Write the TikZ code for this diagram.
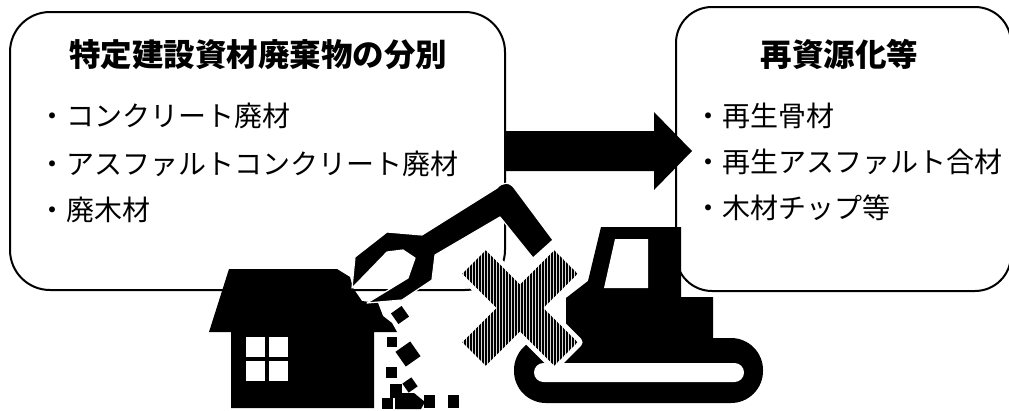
\documentclass[tikz,border=0pt]{standalone}
\usepackage{fontspec}
\newfontfamily\jpfont{Noto Sans CJK JP}
\usetikzlibrary{calc,patterns.meta}
\begin{document}
\begin{tikzpicture}[x=1pt,y=-1pt,
  panel/.style={draw=black,line width=2pt,inner sep=0pt},
  heading/.style={font=\jpfont\bfseries\fontsize{31.5}{34}\selectfont,anchor=base,inner sep=0pt},
  entry/.style={font=\jpfont\fontsize{28}{30}\selectfont,anchor=base west,inner sep=0pt},
  ink/.style={fill=black},
  paper/.style={fill=white},
  halo/.style={draw=white,line width=10pt,line join=round},
  hatch/.style={preaction={fill=gray!30},pattern={Lines[angle=90,distance=3pt,line width=1.5pt]},pattern color=black},
]
\useasboundingbox (0,0) rectangle (1009,410);

% the two panels
\node[panel,rounded corners=40pt,minimum width=495pt,minimum height=278pt] (sort) at (257.5,151) {};
\node[panel,rounded corners=36pt,minimum width=335pt,minimum height=284pt] (recycle) at (843.5,149) {};

% panel texts
\node[heading] (sorttitle) at (258,66) {特定建設資材廃棄物の分別};
\node[entry] (s1) at (38,126) {・コンクリート廃材};
\node[entry] (s2) at (38,174) {・アスファルトコンクリート廃材};
\node[entry] (s3) at (38,220) {・廃木材};
\node[heading] (rectitle) at (839.5,66) {再資源化等};
\node[entry] (r1) at (694,126) {・再生骨材};
\node[entry] (r2) at (694,172) {・再生アスファルト合材};
\node[entry] (r3) at (694,218) {・木材チップ等};

% block arrow from one panel to the other
\coordinate (tip) at ($(recycle.west |- sort.east)+(17,0)$);
\fill[ink] ($(sort.east)+(-1,-20)$) -- ($(tip)+(-38,-20)$) -- ($(tip)+(-38,-39)$) -- (tip)
  -- ($(tip)+(-38,39)$) -- ($(tip)+(-38,20)$) -- ($(sort.east)+(-1,20)$) -- cycle;

% house with a broken roof corner
\fill[ink] (229,269) -- (337,269) -- (350,277) -- (353,288) -- (362,301) -- (378,303)
  -- (383,316) -- (392,323) -- (397,332) -- (374,332) -- (374,408) -- (231,408)
  -- (231,332) -- (209,332) -- cycle;
\fill[paper] (246,337) rectangle (265,357);
\fill[paper] (269,337) rectangle (288,357);
\fill[paper] (246,361) rectangle (265,381);
\fill[paper] (269,361) rectangle (288,381);

% falling debris
\fill[ink,rotate around={35:(400,315)}] (393.5,308.5) rectangle (406.5,321.5);
\fill[ink] (387,337) rectangle (397,347);
\fill[ink,rotate around={35:(408,354)}] (399,345) rectangle (417,363);
\fill[ink] (386,367) rectangle (397,378);
\fill[ink,rotate around={35:(410,385)}] (404.5,379.5) rectangle (415.5,390.5);
\fill[ink] (382,398) rectangle (393,409);
\fill[ink] (390,384) rectangle (402,398);
\fill[ink] (395,393) -- (414,393) -- (425,402) -- (421,409) -- (395,409) -- cycle;
\fill[ink] (424,395) rectangle (435,408);
\fill[ink] (448,395) rectangle (459,408);

% excavator arm with its grab
\filldraw[ink,draw=white,line width=1.2pt,line join=round]
  (352,288) -- (355,257) -- (387,232) -- (422,235) -- (497,188)
  .. controls (502,182) and (510,181) .. (515,189)
  -- (553,240) -- (533,258) -- (500,217) -- (435,255) -- (432,280) -- (402,300)
  -- (367,303) -- (408,278) -- (415,258) -- (403,250) -- (387,252) -- (357,283) -- cycle;

% crawler machine
\fill[ink,rounded corners=32pt] (514,338) rectangle (763,403);
\fill[paper,rounded corners=9.5pt] (534,363) rectangle (744,382);
\fill[ink] (601,227) -- (681,227) -- (681,297) -- (713,297) -- (713,350) -- (566,350)
  -- (566,298) -- (588,281) -- cycle;
\fill[paper] (615,239) -- (648,239) -- (648,288) -- (604,288) -- cycle;

% hatched cross
\def\crosspath{(520,284.7) -- (554.3,250.4) -- (577.6,273.7) -- (543.3,308) -- (577.6,342.3)
  -- (554.3,365.6) -- (520,331.3) -- (485.7,365.6) -- (462.4,342.3) -- (496.7,308)
  -- (462.4,273.7) -- (485.7,250.4) -- cycle}
\path[halo] \crosspath;
\path[hatch] \crosspath;
\end{tikzpicture}
\end{document}
